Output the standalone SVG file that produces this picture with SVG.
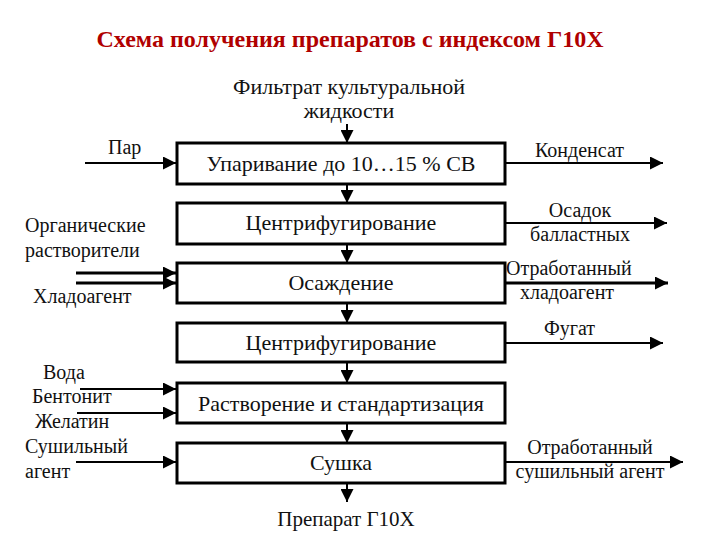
<svg xmlns="http://www.w3.org/2000/svg" width="720" height="540" viewBox="0 0 720 540">
<style>
text{font-family:"Liberation Serif","Times New Roman","DejaVu Serif",serif;fill:#111}
.t{font-size:22px;text-anchor:middle}
.l{font-size:20px}
.c{text-anchor:middle}
.box{fill:#fff;stroke:#000;stroke-width:3}
.ln{stroke:#000;stroke-width:2;fill:none}
.lt{stroke:#000;stroke-width:3;fill:none}
</style>
<defs>
<marker id="ah" viewBox="0 0 10 10" refX="10" refY="5" markerWidth="15" markerHeight="13" markerUnits="userSpaceOnUse" orient="auto"><path d="M0,0L10,5L0,10z" fill="#000"/></marker>
</defs>
<text x="350" y="47" style="font-size:24px;font-weight:bold;fill:#b00000" text-anchor="middle">Схема получения препаратов с индексом Г10Х</text>
<text class="c" style="font-size:22px" x="349" y="94">Фильтрат культуральной</text>
<text class="c" style="font-size:22px" x="349" y="118">жидкости</text>
<g id="connectors">
<line class="ln" x1="347" y1="124" x2="347" y2="143" marker-end="url(#ah)"/>
<line class="ln" x1="347" y1="184" x2="347" y2="203" marker-end="url(#ah)"/>
<line class="ln" x1="347" y1="244" x2="347" y2="263" marker-end="url(#ah)"/>
<line class="ln" x1="347" y1="303" x2="347" y2="323" marker-end="url(#ah)"/>
<line class="ln" x1="347" y1="362" x2="347" y2="383" marker-end="url(#ah)"/>
<line class="ln" x1="347" y1="423" x2="347" y2="443" marker-end="url(#ah)"/>
<line class="ln" x1="347" y1="483" x2="347" y2="502" marker-end="url(#ah)"/>
<line class="ln" x1="85" y1="163" x2="176" y2="163" marker-end="url(#ah)"/>
<line class="lt" x1="76" y1="273" x2="176" y2="273" marker-end="url(#ah)"/>
<line class="lt" x1="76" y1="283" x2="176" y2="283" marker-end="url(#ah)"/>
<line class="ln" x1="80" y1="389" x2="176" y2="389" marker-end="url(#ah)"/>
<line class="ln" x1="77" y1="413" x2="176" y2="413" marker-end="url(#ah)"/>
<line class="ln" x1="76" y1="462" x2="176" y2="462" marker-end="url(#ah)"/>
<line class="ln" x1="505" y1="163" x2="663" y2="163" marker-end="url(#ah)"/>
<line class="ln" x1="505" y1="223" x2="667" y2="223" marker-end="url(#ah)"/>
<line class="lt" x1="505" y1="283" x2="668" y2="283" marker-end="url(#ah)"/>
<line class="ln" x1="505" y1="343" x2="663" y2="343" marker-end="url(#ah)"/>
<line class="ln" x1="505" y1="462" x2="683" y2="462" marker-end="url(#ah)"/>
</g>
<g id="n1"><rect class="box" x="177" y="143" width="328" height="41"/><text class="t" x="341" y="171">Упаривание до 10…15 % СВ</text></g>
<g id="n2"><rect class="box" x="177" y="203" width="328" height="41"/><text class="t" x="341" y="230">Центрифугирование</text></g>
<g id="n3"><rect class="box" x="177" y="263" width="328" height="40"/><text class="t" x="341" y="290">Осаждение</text></g>
<g id="n4"><rect class="box" x="177" y="323" width="328" height="39"/><text class="t" x="341" y="350">Центрифугирование</text></g>
<g id="n5"><rect class="box" x="177" y="383" width="328" height="40"/><text class="t" x="341" y="411">Растворение и стандартизация</text></g>
<g id="n6"><rect class="box" x="177" y="443" width="328" height="40"/><text class="t" x="341" y="470">Сушка</text></g>
<g id="labels">
<text class="l" x="108" y="154">Пар</text>
<text class="l" x="535" y="157">Конденсат</text>
<text class="l c" x="580" y="217">Осадок</text>
<text class="l c" x="580" y="241">балластных</text>
<text class="l" x="25" y="232">Органические</text>
<text class="l" x="25" y="257">растворители</text>
<text class="l" x="33" y="303">Хладоагент</text>
<text class="l" x="506" y="275">Отработанный</text>
<text class="l c" x="567" y="299">хладоагент</text>
<text class="l" x="544" y="335">Фугат</text>
<text class="l" x="43" y="379">Вода</text>
<text class="l" x="32" y="403">Бентонит</text>
<text class="l" x="35" y="428">Желатин</text>
<text class="l" x="25" y="453">Сушильный</text>
<text class="l" x="25" y="478">агент</text>
<text class="l c" x="590" y="454">Отработанный</text>
<text class="l c" x="590" y="478">сушильный агент</text>
<text class="c" style="font-size:21px" x="346" y="526">Препарат Г10Х</text>
</g>
</svg>
